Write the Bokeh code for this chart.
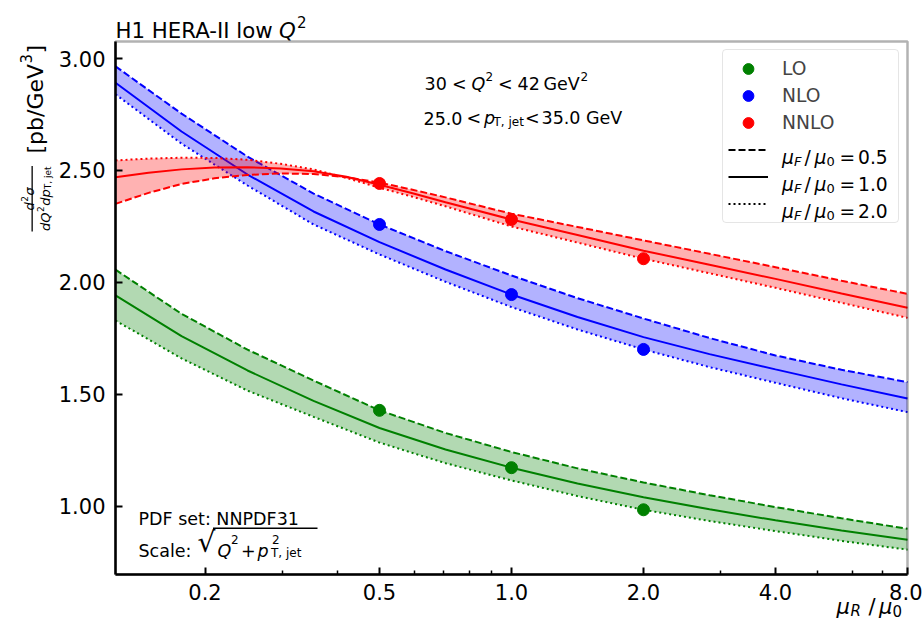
import math
from bokeh.plotting import figure
from bokeh.models import (Range1d, FixedTicker, CustomJSTickFormatter, Label,
                          BoxAnnotation, Legend, LegendItem)
from bokeh.embed import file_html
from bokeh.resources import INLINE

# ---------------- data ----------------
mu_r = [0.125, 0.1768, 0.25, 0.3536, 0.5, 0.7071, 1.0, 1.4142, 2.0, 2.8284, 4.0, 5.6569, 8.0]

lo_f05 = [2.057, 1.860, 1.700, 1.562, 1.429, 1.328, 1.243, 1.170, 1.107, 1.050, 0.997, 0.947, 0.900]
lo_f10 = [1.942, 1.760, 1.607, 1.471, 1.350, 1.254, 1.173, 1.102, 1.041, 0.987, 0.938, 0.892, 0.851]
lo_f20 = [1.830, 1.661, 1.517, 1.400, 1.285, 1.193, 1.116, 1.046, 0.985, 0.935, 0.890, 0.846, 0.807]

nlo_f05 = [2.965, 2.754, 2.562, 2.397, 2.259, 2.140, 2.031, 1.930, 1.839, 1.752, 1.674, 1.610, 1.555]
nlo_f10 = [2.892, 2.674, 2.482, 2.317, 2.180, 2.058, 1.946, 1.846, 1.756, 1.680, 1.612, 1.545, 1.482]
nlo_f20 = [2.840, 2.620, 2.433, 2.259, 2.125, 2.003, 1.890, 1.790, 1.701, 1.622, 1.552, 1.483, 1.421]

# NNLO is read on a finer grid where it turns over
mu_r_nnlo = [0.125, 0.1487, 0.1768, 0.2102, 0.25, 0.2973, 0.3536, 0.4204, 0.5, 0.5946,
             0.7071, 1.0, 1.4142, 2.0, 2.8284, 4.0, 5.6569, 8.0]
nnlo_f05 = [2.351, 2.400, 2.440, 2.465, 2.480, 2.487, 2.484, 2.470, 2.446, 2.414,
            2.380, 2.307, 2.248, 2.188, 2.128, 2.068, 2.008, 1.949]
nnlo_f10 = [2.470, 2.490, 2.505, 2.513, 2.515, 2.509, 2.497, 2.472, 2.436, 2.398,
            2.358, 2.281, 2.212, 2.142, 2.079, 2.016, 1.951, 1.887]
nnlo_f20 = [2.545, 2.553, 2.557, 2.556, 2.548, 2.530, 2.505, 2.467, 2.423, 2.383,
            2.340, 2.250, 2.178, 2.106, 2.041, 1.976, 1.909, 1.842]

point_mu = [0.5, 1.0, 2.0]
lo_pts = [1.429, 1.173, 0.985]
nlo_pts = [2.259, 1.946, 1.701]
nnlo_pts = [2.442, 2.281, 2.106]

orders = ["LO", "NLO", "NNLO"]
order_colors = ["#008000", "#0000ff", "#ff0000"]
muf_labels = ["0.5", "1.0", "2.0"]

x_lim = (0.125, 8.0)
y_lim = (0.696, 3.076)
x_ticks = [0.2, 0.5, 1.0, 2.0, 4.0, 8.0]
x_minor = [0.3, 0.4, 0.6, 0.7, 0.8, 0.9, 3.0, 5.0, 6.0, 7.0]
y_ticks = [1.0, 1.5, 2.0, 2.5, 3.0]

# ---------------- layout ----------------
FONT = "DejaVu Sans"
W, H = 922, 629
FL, FR, FT, FB = 115, 907, 41, 574   # axes box edges in page pixels

LX0, LX1 = math.log(x_lim[0]), math.log(x_lim[1])


def xd(px):   # page px -> data x (log axis)
    return math.exp(LX0 + (px - FL) / (FR - FL) * (LX1 - LX0))


def yd(py):   # page px -> data y
    return y_lim[0] + (FB - py) / (FB - FT) * (y_lim[1] - y_lim[0])


# the frame covers the whole canvas; axes are pinned to the axes box
p = figure(width=W, height=H, x_axis_type="log",
           x_range=Range1d(xd(0), xd(W)), y_range=Range1d(yd(H), yd(0)),
           output_backend="svg", toolbar_location=None, title=None, min_border=0)
p.grid.visible = False
p.background_fill_color = "white"
p.border_fill_color = "white"
p.outline_line_color = None

p.xaxis.ticker = FixedTicker(ticks=x_ticks, minor_ticks=x_minor)
p.xaxis.formatter = CustomJSTickFormatter(code="return tick.toFixed(1)")
p.yaxis.ticker = FixedTicker(ticks=y_ticks, minor_ticks=[])
p.yaxis.formatter = CustomJSTickFormatter(code="return tick.toFixed(2)")
p.xaxis.fixed_location = y_lim[0]
p.yaxis.fixed_location = x_lim[0]
p.xaxis.bounds = x_lim
p.yaxis.bounds = y_lim
for ax in (p.xaxis[0], p.yaxis[0]):
    ax.axis_line_width = 2.5
    ax.axis_line_color = "black"
    ax.major_tick_in = 7
    ax.major_tick_out = 0
    ax.major_tick_line_width = 2
    ax.minor_tick_in = 4
    ax.minor_tick_out = 0
    ax.minor_tick_line_width = 1.5
    ax.major_label_text_font = FONT
    ax.major_label_text_font_size = "21px"
    ax.major_label_text_color = "black"
p.yaxis.major_label_standoff = 10
p.xaxis.major_label_standoff = 9

# axes box
p.add_layout(BoxAnnotation(left=x_lim[0], right=x_lim[1], bottom=y_lim[0], top=y_lim[1],
                           fill_alpha=0, line_color="black", line_width=2.5, level="guide"))

# ---------------- curves ----------------
series = [
    (mu_r, lo_f05, lo_f10, lo_f20, lo_pts),
    (mu_r, nlo_f05, nlo_f10, nlo_f20, nlo_pts),
    (mu_r_nnlo, nnlo_f05, nnlo_f10, nnlo_f20, nnlo_pts),
]
point_renderers = []
for (xs, f05, f10, f20, pts), col in zip(series, order_colors):
    p.varea(x=xs, y1=f05, y2=f20, fill_color=col, fill_alpha=0.3)
    p.line(xs, f05, line_color=col, line_width=2, line_dash="7 3")
    p.line(xs, f10, line_color=col, line_width=2)
    p.line(xs, f20, line_color=col, line_width=2, line_dash="2 3")
for (xs, f05, f10, f20, pts), col in zip(series, order_colors):
    r = p.scatter(point_mu, pts, size=12, fill_color=col, line_color=col)
    point_renderers.append(r)

nan = float("nan")
dash_styles = ["7 3", "solid", "2 3"]
style_renderers = []
for ds in dash_styles:
    style_renderers.append(p.line([nan, nan], [nan, nan], line_color="black",
                                  line_width=2, line_dash=ds))

LEG_PAD, LEG_ROW = 5, 27
leg_h = 2 * LEG_PAD + 6 * LEG_ROW
items = [LegendItem(label=o, renderers=[r]) for o, r in zip(orders, point_renderers)]
items += [LegendItem(label=" ", renderers=[r]) for r in style_renderers]
leg = Legend(items=items, location=(722, H - (51 + leg_h)), margin=0, padding=LEG_PAD,
             spacing=0, glyph_width=40, glyph_height=LEG_ROW, label_height=LEG_ROW,
             label_width=111, label_standoff=14, label_text_font=FONT,
             label_text_font_size="18.7px",
             border_line_color="#cccccc", border_line_width=1,
             background_fill_alpha=0, level="annotation")
if "border_radius" in Legend.properties():
    leg.border_radius = 4
p.add_layout(leg)


# ---------------- rich text (screen units = page px, y measured upward) ----------------
def put(frags, rot=False):
    """frags: (text, size, style, x, y) in page px; y is the baseline
    (for rotated text x is the baseline and y the start)."""
    for text, size, style, x, y in frags:
        p.add_layout(Label(x=x, y=H - y, x_units="screen", y_units="screen",
                           text=text, angle=(math.pi / 2 if rot else 0.0),
                           text_font=FONT, text_font_size=f"{size}px",
                           text_font_style=style, text_color="black",
                           text_align="left", text_baseline="alphabetic",
                           level="overlay"))


def bar(x0, x1, y0, y1):
    p.add_layout(BoxAnnotation(left=x0, right=x1, top=H - y0, bottom=H - y1,
                               left_units="screen", right_units="screen",
                               top_units="screen", bottom_units="screen",
                               fill_color="black", fill_alpha=1.0, line_alpha=0,
                               level="overlay"))


# title
put([("H1 HERA-II low", 21.3, "normal", 115, 30),
     ("Q", 21.3, "italic", 278.5, 30),
     ("2", 15, "normal", 296.5, 21)])

# y-axis label (rotated, reads upward, aligned with the top of the axes)
put([("d", 13, "italic", 28.5, 210), ("2", 9, "normal", 23.5, 201.2),
     ("σ", 13, "italic", 28.5, 195)], rot=True)
bar(31.0, 32.3, 165.5, 231)
put([("d", 13, "italic", 44.5, 230.5), ("Q", 13, "italic", 44.5, 222.2),
     ("2", 9, "normal", 39.5, 211.5), ("d", 13, "italic", 44.5, 205.3),
     ("p", 13, "italic", 44.5, 197.0), ("T, jet", 9, "normal", 47, 188.7)], rot=True)
put([("[pb/GeV", 22, "normal", 35, 153), ("3", 15, "normal", 25.5, 63),
     ("]", 22, "normal", 35, 53)], rot=True)

# x-axis label (right aligned with the axes)
put([("μ", 21, "italic", 836, 606), ("R", 15, "italic", 850, 610),
     ("/", 21, "normal", 868, 606), ("μ", 21, "italic", 878.5, 606),
     ("0", 15, "normal", 892, 610)])

# kinematic range annotation
put([("30", 17.5, "normal", 424, 83), ("<", 17.5, "normal", 451.5, 83),
     ("Q", 17.5, "italic", 471, 83), ("2", 12, "normal", 485, 76),
     ("<", 17.5, "normal", 497.5, 83), ("42", 17.5, "normal", 517, 83),
     ("GeV", 17.5, "normal", 543, 83), ("2", 12, "normal", 580, 76)])
put([("25.0", 17.5, "normal", 423, 117.5), ("<", 17.5, "normal", 466, 117.5),
     ("p", 17.5, "italic", 483.5, 117.5), ("T, jet", 12, "normal", 493, 121.5),
     ("<", 17.5, "normal", 524.5, 117.5), ("35.0 GeV", 17.5, "normal", 541, 117.5)])

# PDF / scale annotation
put([("PDF set: NNPDF31", 17.5, "normal", 138, 518)])
put([("Scale:", 17.5, "normal", 138, 550), ("√", 28, "normal", 197, 542),
     ("Q", 17.5, "italic", 217, 550), ("2", 12, "normal", 230.5, 538.5),
     ("+", 17.5, "normal", 240.5, 550), ("p", 17.5, "italic", 257, 550),
     ("2", 12, "normal", 271.5, 538.5), ("T, jet", 12, "normal", 270.5, 552)])
bar(212.5, 317, 527, 528.4)

# legend labels with subscripts
for i, lab in enumerate(muf_labels):
    yb = 51 + LEG_PAD + LEG_ROW * (3 + i) + LEG_ROW / 2 + 6
    put([("μ", 18.7, "italic", 781.5, yb), ("F", 13, "italic", 793.5, yb + 4),
         ("/", 18.7, "normal", 804, yb), ("μ", 18.7, "italic", 814, yb),
         ("0", 13, "normal", 826, yb + 4), ("=", 18.7, "normal", 839, yb),
         (lab, 18.7, "normal", 857.5, yb)])

html = file_html(p, INLINE, "H1 HERA-II low Q2")
open("out.html", "w").write(html)
